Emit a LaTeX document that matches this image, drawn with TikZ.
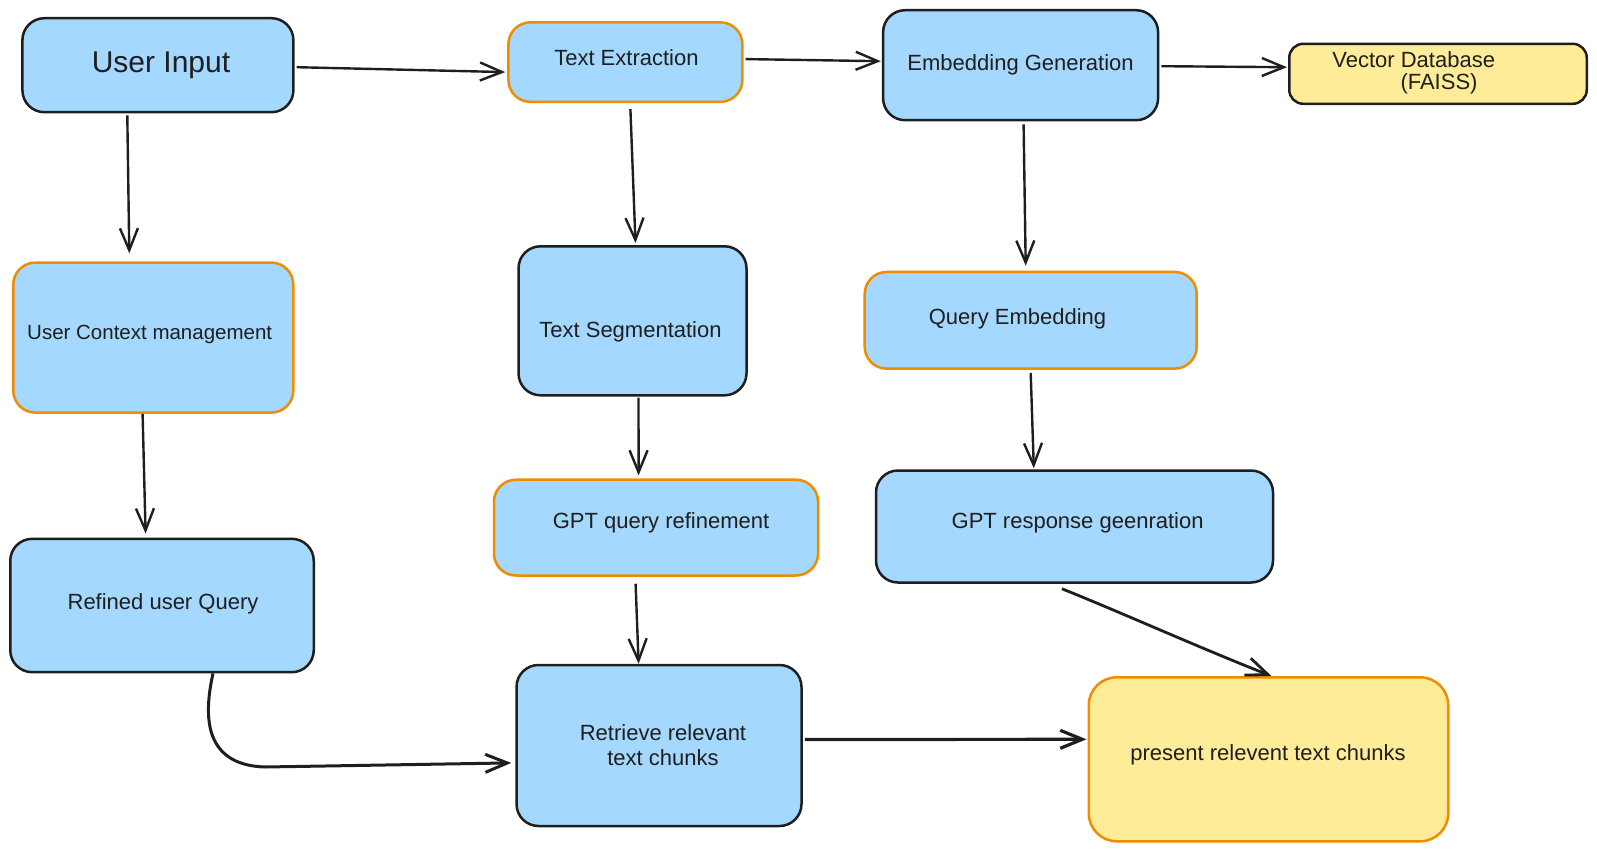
\documentclass[tikz,border=0pt]{standalone}
\usepackage{fontspec}
\setmainfont{Liberation Sans}
\usetikzlibrary{arrows.meta,calc}
\definecolor{boxblue}{HTML}{A5D8FF}
\definecolor{boxyellow}{HTML}{FFEC99}
\definecolor{strokeorange}{HTML}{F08C00}
\definecolor{strokeblack}{HTML}{1E1E1E}
\tikzset{
  box/.style={draw=strokeblack, line width=2.5pt, rounded corners=22pt, fill=boxblue, inner sep=0pt},
  obox/.style={box, draw=strokeorange},
  ybox/.style={box, fill=boxyellow},
  yobox/.style={box, fill=boxyellow, draw=strokeorange},
  txt/.style={font=\fontsize{22}{25.5}\selectfont, text=strokeblack, align=center, inner sep=0pt},
  bigtxt/.style={txt, font=\fontsize{30}{34}\selectfont},
  arr/.style={draw=strokeblack, line width=2.4pt, -{Straight Barb[length=22pt,width=18pt]}},
}
\begin{document}
\begin{tikzpicture}[x=1pt,y=-1pt]
\useasboundingbox (0,0) rectangle (1597,850);
% boxes
\node[box, minimum width=271pt, minimum height=94pt] (ui) at (157.9,65.2) {};
\node[obox, minimum width=234pt, minimum height=79.5pt] (te) at (625.4,62.1) {};
\node[box, minimum width=275pt, minimum height=110pt] (eg) at (1020.6,65.2) {};
\node[ybox, rounded corners=14pt, minimum width=297.5pt, minimum height=60pt] (vdb) at (1438,73.8) {};
\node[obox, minimum width=280pt, minimum height=150pt] (uc) at (153.3,337.6) {};
\node[box, minimum width=228pt, minimum height=149pt] (ts) at (632.5,320.8) {};
\node[obox, minimum width=332pt, minimum height=96.7pt] (qe) at (1030.7,320.3) {};
\node[box, minimum width=303.5pt, minimum height=133.4pt] (rq) at (162,605.5) {};
\node[obox, minimum width=324pt, minimum height=95.8pt] (gqr) at (656,527.6) {};
\node[box, minimum width=397pt, minimum height=112pt] (grg) at (1074.5,526.5) {};
\node[box, minimum width=285pt, minimum height=161pt] (ret) at (659,745.5) {};
\node[yobox, rounded corners=28pt, minimum width=359.5pt, minimum height=164pt] (pres) at (1268.5,759.3) {};
% texts
\node[bigtxt] (uit) at (161,65) {User Input};
\node[txt] (tet) at (626.4,57.5) {Text Extraction};
\node[txt] (egt) at (1020.6,65) {Embedding Generation};
\node[txt] (vdbt1) at (1413.7,60) {Vector Database};
\node[txt] (vdbt2) at (1439,83.5) {(FAISS)};
\node[txt, font=\fontsize{20.5}{24}\selectfont] (uct) at (149.7,334) {User Context management};
\node[txt] (tst) at (630.5,332) {Text Segmentation};
\node[txt] (qet) at (1017.5,318.8) {Query Embedding};
\node[txt] (rqt) at (163,604) {Refined user Query};
\node[txt] (gqrt) at (661,522.5) {GPT query refinement};
\node[txt] (grgt) at (1077.6,522.5) {GPT response geenration};
\node[txt] (rett) at (663,745) {Retrieve relevant\\ text chunks};
\node[txt] (prest) at (1268,754.7) {present relevent text chunks};
% connectors
\draw[arr] ($(ui.east)+(2,2)$) -- ($(te.west)+(-2,10)$);
\draw[arr] ($(te.east)+(2,-3)$) -- ($(eg.west)+(-1,-4)$);
\draw[arr] ($(eg.east)+(2,1)$) -- ($(vdb.west)+(-1,-6.6)$);
\draw[arr] ($(ui.south)+(-30.6,2)$) -- ($(uc.north)+(-24,-8)$);
\draw[arr] ($(te.south)+(5,6)$) -- ($(ts.north)+(3,-2)$);
\draw[arr] ($(eg.south)+(3,3)$) -- ($(qe.north)+(-5,-5)$);
\draw[arr] ($(uc.south)+(-10.7,0)$) -- ($(rq.north)+(-16.4,-4)$);
\draw[arr] ($(ts.south)+(6,1)$) -- ($(gqr.north)+(-17.4,-3)$);
\draw[arr] ($(qe.south)+(0,3)$) -- ($(grg.north)+(-40.7,-1)$);
\draw[arr] ($(gqr.south)+(-20.4,7)$) -- ($(ret.north)+(-20.4,0)$);
\draw[arr, line width=2.8pt] ($(grg.south)+(-12.6,5)$) .. controls (1120,612) and (1200,648) .. ($(pres.north)+(3,0)$);
\draw[arr, line width=3pt] ($(rq.south)+(51,0)$) .. controls (205,710) and (200,765) .. (265,767) -- ($(ret.west)+(-4,17.4)$);
\draw[arr, line width=3.2pt] ($(ret.east)+(2,-6)$) -- ($(pres.west)+(-1,-20)$);
\end{tikzpicture}
\end{document}
